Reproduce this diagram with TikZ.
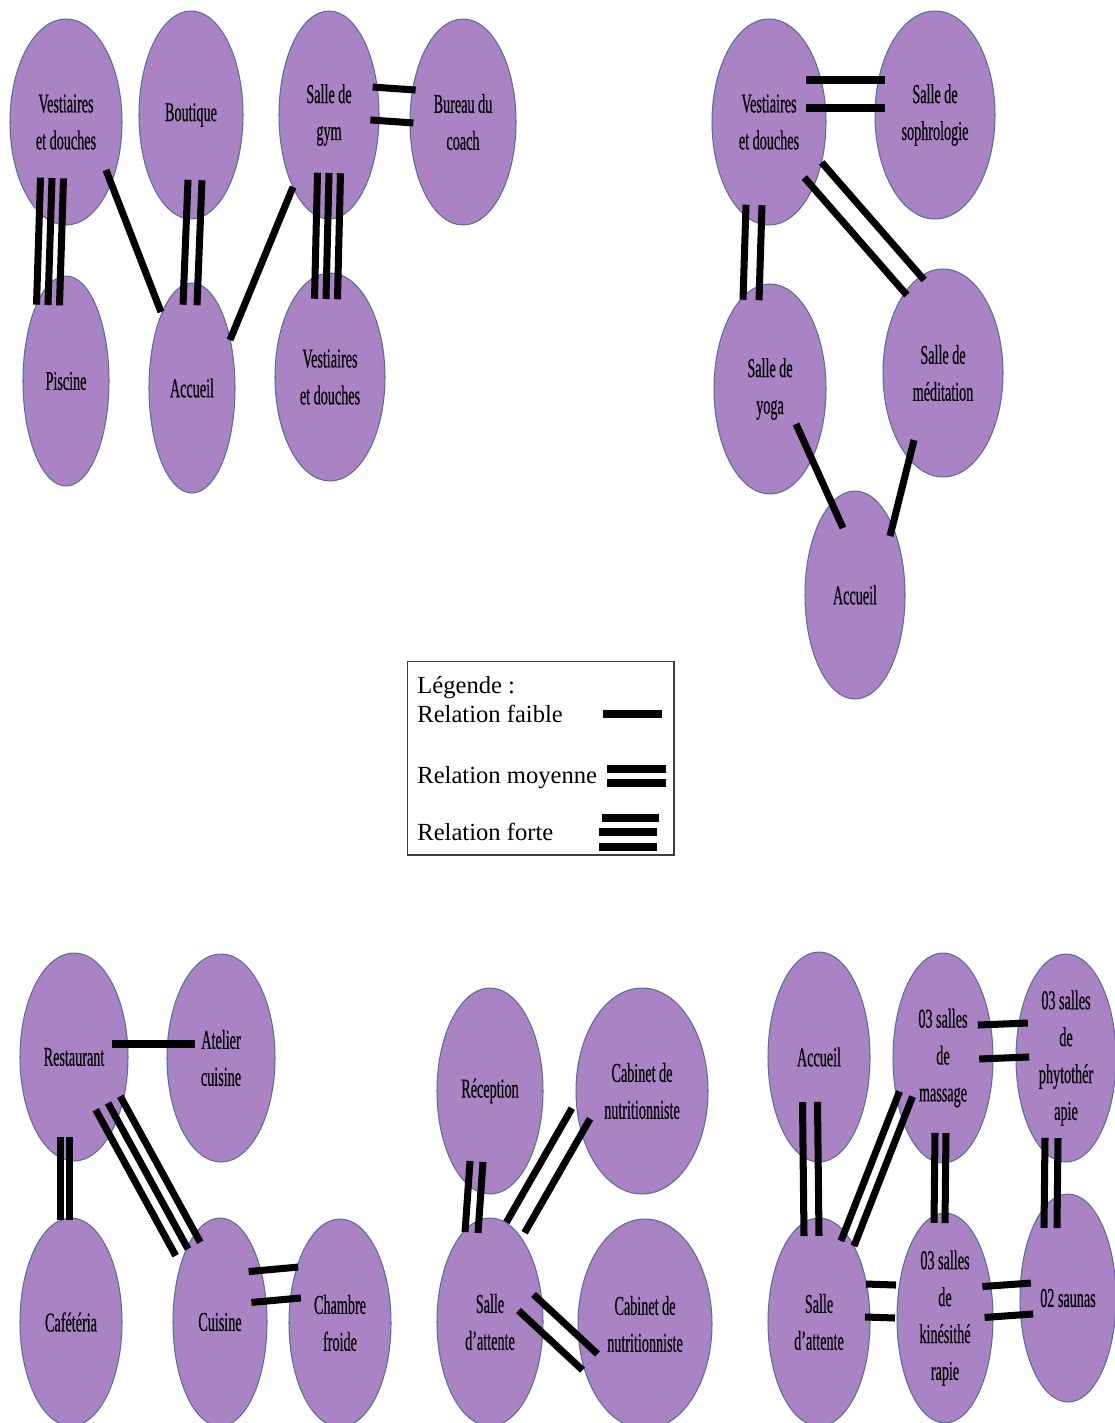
\documentclass[tikz,border=0pt]{standalone}
\usepackage{fontspec}
\setmainfont{Liberation Serif}
\newfontfamily\roomfont[FakeStretch=0.52,FakeBold=0.4]{Liberation Serif}
\usetikzlibrary{shapes.geometric,calc}
\definecolor{roomfill}{RGB}{169,131,196}
\definecolor{roomedge}{RGB}{84,110,160}
\definecolor{legendedge}{RGB}{60,60,60}

% #1 number of bars, #2 gap in px, #3/#4 first node and offset, #5/#6 second node and offset
\newcommand\relation[6]{%
  \coordinate (r-a) at ($(#3)+(#4)$);
  \coordinate (r-b) at ($(#5)+(#6)$);
  \foreach \k in {1,...,#1}{
    \pgfmathsetmacro\barshift{(\k-(#1+1)/2)*#2*0.569}
    \draw[bar] ($(r-a)!\barshift pt!90:(r-b)$) -- ($(r-b)!\barshift pt!-90:(r-a)$);
  }
}

\begin{document}
\begin{tikzpicture}[x=0.02cm, y=-0.02cm,
    room/.style={ellipse, draw=roomedge, fill=roomfill, line width=0.6pt, inner sep=0pt,
        align=center, minimum height=4.16cm, font=\roomfont\fontsize{15.5}{21}\selectfont},
    bar/.style={line width=4pt, black},
    legendtext/.style={anchor=base west, inner sep=0pt, font=\fontsize{14}{16}\selectfont}
]
    \useasboundingbox[fill=white] (0,0) rectangle (1115,1423);

    % Sport block
    \node[room, minimum width=2.24cm, minimum height=4.12cm] (vda) at (66,122) {Vestiaires\\et douches};
    \node[room, minimum width=2.08cm] (bou) at (191,115) {Boutique};
    \node[room, minimum width=2.0cm] (gym) at (329,115) {Salle de\\gym};
    \node[room, minimum width=2.12cm, minimum height=4.12cm] (coach) at (463,122) {Bureau du\\coach};
    \node[room, minimum width=1.72cm, minimum height=4.2cm] (pis) at (66,381) {Piscine};
    \node[room, minimum width=1.72cm, minimum height=4.2cm] (acca) at (192,388) {Accueil};
    \node[room, minimum width=2.2cm] (vdb) at (330,377) {Vestiaires\\et douches};

    % Relaxation block
    \node[room, minimum width=2.28cm, minimum height=4.12cm] (vdc) at (769,122) {Vestiaires\\et douches};
    \node[room, minimum width=2.4cm] (soph) at (935,115) {Salle de\\sophrologie};
    \node[room, minimum width=2.24cm, minimum height=4.2cm] (yoga) at (770,389) {Salle de\\yoga};
    \node[room, minimum width=2.4cm] (med) at (943,373) {Salle de\\méditation};
    \node[room, minimum width=2.0cm] (accb) at (855,595) {Accueil};

    % Restaurant block
    \node[room, minimum width=2.16cm] (rest) at (74,1057) {Restaurant};
    \node[room, minimum width=2.16cm] (atel) at (221,1058) {Atelier\\cuisine};
    \node[room, minimum width=2.04cm] (cafe) at (71,1322) {Cafétéria};
    \node[room, minimum width=1.88cm] (cuis) at (220,1322) {Cuisine};
    \node[room, minimum width=2.04cm] (chamb) at (340,1323) {Chambre\\froide};

    % Nutrition block
    \node[room, minimum width=2.12cm, minimum height=4.12cm] (rec) at (490,1091) {Réception};
    \node[room, minimum width=2.64cm, minimum height=4.12cm] (cab) at (642,1091) {Cabinet de\\nutritionniste};
    \node[room, minimum width=2.12cm] (att) at (490,1322) {Salle\\d’attente};
    \node[room, minimum width=2.68cm, minimum height=4.2cm] (cabb) at (645,1324) {Cabinet de\\nutritionniste};

    % Care block
    \node[room, minimum width=2.04cm, minimum height=4.2cm] (acce) at (819,1057) {Accueil};
    \node[room, minimum width=2.0cm, minimum height=4.2cm] (mass) at (943,1058) {03 salles\\de\\massage};
    \node[room, minimum width=2.0cm] (phyto) at (1066,1058) {03 salles\\de\\phytothér\\apie};
    \node[room, minimum width=2.04cm] (attb) at (819,1322) {Salle\\d’attente};
    \node[room, minimum width=1.92cm, minimum height=4.2cm] (kine) at (945,1318) {03 salles\\de\\kinésithé\\rapie};
    \node[room, minimum width=1.92cm] (sauna) at (1068,1298) {02 saunas};

    % Relations
    \relation{3}{11.5}{vda}{-14,56}{pis}{-18,-76}
    \relation{1}{0}{vda}{40,48}{acca}{-31,-76}
    \relation{2}{14}{bou}{4,65}{acca}{-2,-83}
    \relation{1}{0}{gym}{-36,72}{acca}{38,-48}
    \relation{3}{11.5}{gym}{0,58}{vdb}{-4,-78}
    \relation{2}{33}{gym}{42.5,-11.5}{coach}{-48.5,-15.5}

    \relation{2}{28}{vdc}{37,-28}{soph}{-50,-21}
    \relation{2}{23}{vdc}{44,48}{med}{-27.5,-85.5}
    \relation{2}{16}{vdc}{-15,83}{yoga}{-19,-89}
    \relation{1}{0}{yoga}{26,35}{accb}{-12,-67}
    \relation{1}{0}{med}{-29,67}{accb}{35,-59}

    \relation{1}{0}{rest}{38,-13}{atel}{-26,-14}
    \relation{2}{9.5}{rest}{-9,80}{cafe}{-6,-102}
    \relation{3}{14}{rest}{34,46}{cuis}{-32,-73}
    \relation{2}{31}{cuis}{30,-35}{chamb}{-40.5,-40.5}

    \relation{2}{13}{rec}{-13.5,70.5}{att}{-18.5,-89.5}
    \relation{2}{21}{att}{25.5,-94.5}{cab}{-61,22.5}
    \relation{2}{22}{att}{36,-19.5}{cabb}{-55,38}

    \relation{2}{15}{acce}{-9,45}{attb}{-7.5,-86}
    \relation{2}{14}{attb}{28.5,-78.5}{mass}{-37,36}
    \relation{2}{34}{mass}{35.5,-16}{phyto}{-37.5,-18}
    \relation{2}{11}{mass}{-2.5,75}{kine}{-5.5,-95}
    \relation{2}{13}{phyto}{-14.5,80}{sauna}{-17.5,-70}
    \relation{2}{33}{attb}{46.5,-21.5}{kine}{-49.5,-16.5}
    \relation{2}{31}{kine}{38.5,-16}{sauna}{-36,0.5}

    % Legend
    \node[draw=legendedge, line width=0.6pt, minimum width=5.34cm, minimum height=3.88cm] (legend) at (540.5,758) {};
    \node[legendtext] (leg) at (417,693) {Légende :};
    \node[legendtext] (faible) at (417,722) {Relation faible};
    \node[legendtext] (moyenne) at (417,783) {Relation moyenne};
    \node[legendtext] (forte) at (417,840) {Relation forte};
    \draw[bar] (603,714) -- (662,714);
    \foreach \y in {769,783} \draw[bar] (607,\y) -- (666,\y);
    \draw[bar] (602,818) -- (659,818);
    \foreach \y in {832,847} \draw[bar] (599,\y) -- (657,\y);
\end{tikzpicture}
\end{document}
